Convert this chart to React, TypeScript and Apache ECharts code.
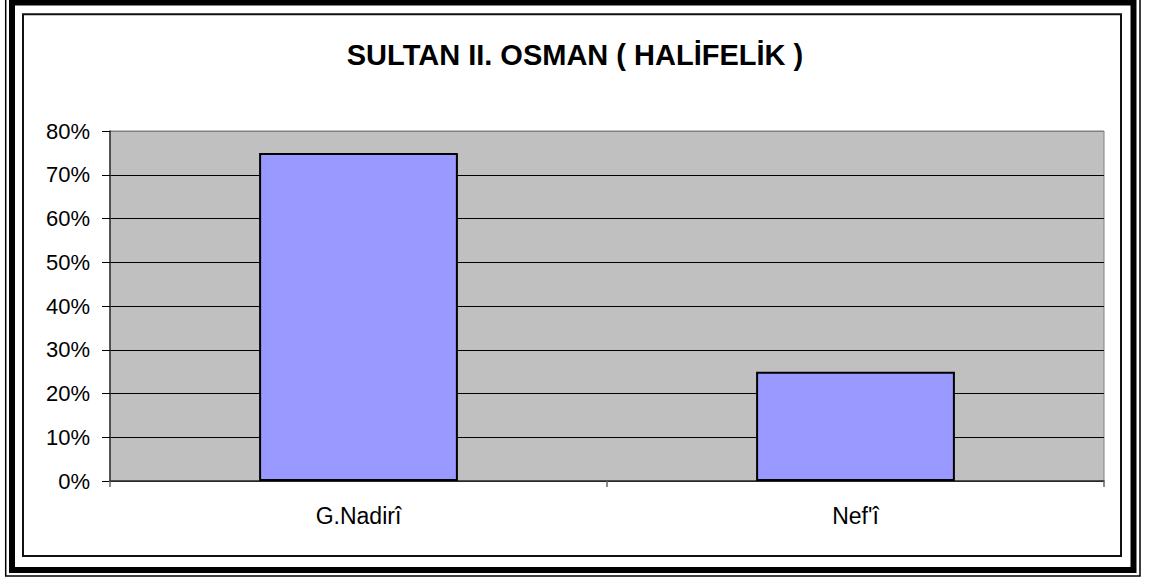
import React, { useEffect, useRef } from "react";
import * as echarts from "echarts";

const titleText = "SULTAN II. OSMAN ( HALİFELİK )";
const categories = ["G.Nadirî", "Nef'î"];
const values = [75, 25];
const yMin = 0;
const yMax = 80;
const yInterval = 10;

export default function App() {
  const ref = useRef<HTMLDivElement>(null);
  useEffect(() => {
    document.body.style.margin = "0";
    if (!ref.current) return;
    const chart = echarts.init(ref.current, null, { renderer: "svg" });
    const font = "'Liberation Sans', Arial, sans-serif";
    const gridColors = ["#000", "#000", "#000", "#000", "#000", "#000", "#000", "#000", "#808080"];
    chart.setOption({
      animation: false,
      backgroundColor: "#fff",
      title: {
        text: titleText,
        left: "center",
        top: 35,
        textStyle: { fontFamily: font, fontWeight: "bold", fontSize: 29, color: "#000" },
      },
      grid: {
        left: 110,
        right: 46,
        top: 131,
        bottom: 96,
        show: true,
        backgroundColor: "#C0C0C0",
        borderColor: "#808080",
        borderWidth: 1,
      },
      xAxis: {
        type: "category",
        data: categories,
        axisLine: { show: true, lineStyle: { color: "#333", width: 1.5 } },
        axisTick: { show: true, length: 6, lineStyle: { color: "#666", width: 1.5 } },
        axisLabel: { fontFamily: font, fontSize: 23, color: "#000", margin: 23 },
      },
      yAxis: {
        type: "value",
        min: yMin,
        max: yMax,
        interval: yInterval,
        axisLine: { show: true, lineStyle: { color: "#333", width: 1.5 } },
        axisTick: { show: true, length: 8, lineStyle: { color: "#000", width: 1 } },
        axisLabel: { fontFamily: font, fontSize: 22, color: "#000", margin: 20, formatter: "{value}%" },
        splitLine: { show: true, lineStyle: { color: gridColors, width: 1 } },
      },
      series: [
        {
          type: "bar",
          data: values,
          barWidth: "40%",
          itemStyle: { color: "#9999FF", borderColor: "#000", borderWidth: 2 },
        },
      ],
      graphic: [
        {
          type: "rect",
          shape: { x: 5.7, y: -3, width: 1134.3, height: 579 },
          style: { fill: "none", stroke: "#000", lineWidth: 1.5 },
          silent: true,
        },
        {
          type: "rect",
          shape: { x: 12, y: 2.5, width: 1121.5, height: 567.5 },
          style: { fill: "none", stroke: "#000", lineWidth: 6 },
          silent: true,
        },
        {
          type: "rect",
          shape: { x: 23, y: 14.3, width: 1098, height: 541.7 },
          style: { fill: "none", stroke: "#111", lineWidth: 2 },
          silent: true,
        },
      ],
    });
    return () => chart.dispose();
  }, []);
  return (
    <div
      ref={ref}
      style={{ position: "absolute", left: 0, top: 0, width: 1150, height: 577 }}
    />
  );
}
